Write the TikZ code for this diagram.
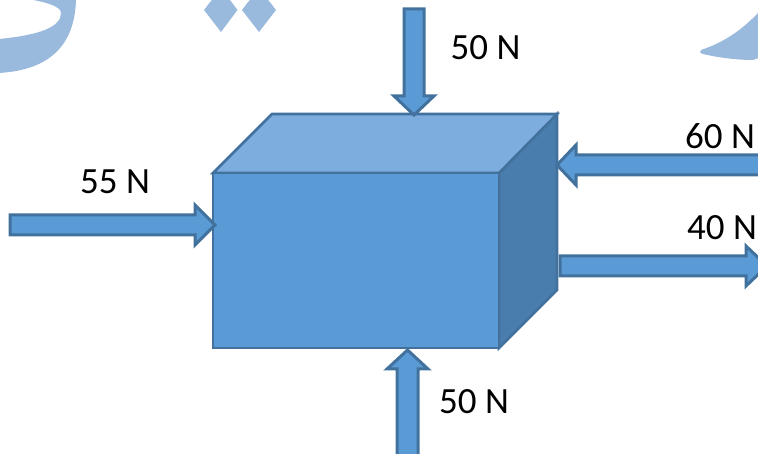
\documentclass[tikz,border=0pt]{standalone}
\usepackage{fontspec}
\setmainfont{Carlito}
\definecolor{boxfront}{HTML}{5B9BD5}
\definecolor{boxtop}{HTML}{7CADDE}
\definecolor{boxside}{HTML}{497DAD}
\definecolor{boxline}{HTML}{41719C}
\definecolor{markcolor}{HTML}{99BADC}
\tikzset{
	boxfrontface/.style={fill=boxfront, draw=boxline, line width=2.6pt, line join=miter},
	boxtopface/.style={fill=boxtop, draw=boxline, line width=2.6pt, line join=miter},
	boxsideface/.style={fill=boxside, draw=boxline, line width=2.6pt, line join=miter},
	force/.style={fill=boxfront, draw=boxline, line width=3pt, line join=miter},
	inkmark/.style={fill=markcolor, draw=none},
	forcelabel/.style={inner sep=0pt, font=\fontsize{37}{37}\selectfont, text=black}
}
\begin{document}
\begin{tikzpicture}[x=1pt, y=-1pt]
	\clip (0,0) rectangle (758,454);
	\useasboundingbox (0,0) rectangle (758,454);

	\fill[inkmark] (76,-1) .. controls (75,45) and (50,70) .. (-1,73) -- (-1,39) .. controls (40,35) and (61,27) .. (61,13) .. controls (61,6) and (45,2) .. (28,-1) -- cycle;
	\fill[inkmark] (204,10) -- (221,32) -- (237.5,10) -- (221,-12) -- cycle;
	\fill[inkmark] (242,10) -- (259,32) -- (276,10) -- (259,-12) -- cycle;
	\fill[inkmark] (759,12) .. controls (740,32) and (722,43) .. (701,50) .. controls (699,52) and (700,53) .. (703,54) .. controls (720,58) and (738,60) .. (753,60) -- (759,58) -- cycle;

	\draw[boxsideface] (499,173) -- (557,114) -- (557,290) -- (499,348) -- cycle;
	\draw[boxtopface] (213,173) -- (272,114) -- (557,114) -- (499,173) -- cycle;
	\draw[boxfrontface] (213,173) rectangle (499,348);

	\draw[force] (404,9) -- (424,9) -- (424,96) -- (434,96) -- (414,115) -- (394,96) -- (404,96) -- cycle;
	\draw[force] (397,460) -- (397,369) -- (387,369) -- (407.5,350) -- (428,369) -- (418,369) -- (418,460) -- cycle;
	\draw[force] (10,215) -- (195,215) -- (195,205) -- (215,225) -- (195,245) -- (195,235) -- (10,235) -- cycle;
	\draw[force] (765,155) -- (576,155) -- (576,145) -- (557,165) -- (576,185) -- (576,175) -- (765,175) -- cycle;
	\draw[force] (560,256) -- (746,256) -- (746,246) -- (767,266) -- (746,286) -- (746,276) -- (560,276) -- cycle;

	\node[forcelabel] (fifty1) at (485.5,48) {50 N};
	\node[forcelabel] (sixty) at (720,136) {60 N};
	\node[forcelabel] (forty) at (722,228) {40 N};
	\node[forcelabel] (fiftyfive) at (115,182) {55 N};
	\node[forcelabel] (fifty2) at (474,402) {50 N};
\end{tikzpicture}
\end{document}
